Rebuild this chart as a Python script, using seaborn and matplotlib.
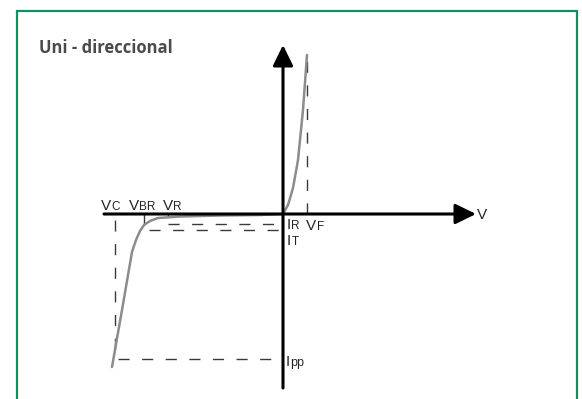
import numpy as np
import matplotlib.pyplot as plt
import seaborn as sns
from matplotlib.patches import Rectangle

# Curva I-V de un TVS unidireccional (origen = cruce de ejes, unidades arbitrarias)
curve_v = [-171, -161, -151, -147, -143, -139, -133, -125, -103, -63, -23, 0, 5, 10, 15, 20, 24]
curve_i = [-153, -96, -38, -26, -17, -11, -7, -4, -2.5, -1.5, -1, 0, 9, 26, 54, 104, 159]

# Puntos caracteristicos
V_C, V_BR, V_R, V_F = -168, -139, -115, 24
I_R, I_T, I_PP = -10, -16, -145
I_F_MAX = 159

titulo = "Uni - direccional"

OX, OY = 283, 214  # posicion del origen en pixeles


def px(x, y):
    return x - OX, OY - y


sns.set_style("white")
plt.rcParams["font.family"] = ["Liberation Sans", "DejaVu Sans"]

fig = plt.figure(figsize=(5.82, 3.99), dpi=100)
ax = fig.add_axes([0, 0, 1, 1])
ax.set_xlim(-OX, 582 - OX)
ax.set_ylim(OY - 399, OY)
ax.axis("off")

# marco verde
x0, y0 = px(16.5, 10.5)
x1, y1 = px(577, 420)
ax.add_patch(Rectangle((x0, y1), x1 - x0, y0 - y1, fill=False,
                       edgecolor="#138f5d", lw=1.6, clip_on=False))

ax.text(*px(39, 53), titulo, fontsize=12, fontweight="bold",
        family="Open Sans", color="#4a4a4a", va="baseline")

# lineas de referencia
dash = dict(color="#3a3a3a", lw=1.0, dashes=(8, 9))
ax.plot([V_C, V_C], [-6, I_PP], **dash)
ax.plot([V_C + 3, 0], [I_PP, I_PP], **dash)
ax.plot([V_BR, V_BR], [0, I_T + 5], color="#3a3a3a", lw=1.0)
ax.plot([V_BR + 5, 0], [I_T, I_T], **dash)
ax.plot([V_R, V_R], [0, -3], color="#3a3a3a", lw=1.0)
ax.plot([V_R, 0], [I_R, I_R], **dash)
ax.plot([V_F, V_F], [0, I_F_MAX], **dash)

# ejes con flecha
arrow = dict(arrowstyle="-|>,head_length=0.45,head_width=0.22", lw=2.2,
             color="black", mutation_scale=28, shrinkA=0, shrinkB=0)
ax.annotate("", xy=px(476, 214), xytext=px(104, 214), arrowprops=arrow)
ax.annotate("", xy=px(283, 45), xytext=px(283, 388), arrowprops=arrow)

# curva
sns.lineplot(x=curve_v, y=curve_i, sort=False, color="#8c8c8c", lw=1.8, ax=ax)

# etiquetas con subindice
MAIN, SUB = 11, 8.5


def label(xm, ym, main, xs, sub, sub_size=SUB):
    ax.text(*px(xm, ym), main, fontsize=MAIN, va="baseline")
    ax.text(*px(xs, ym), sub, fontsize=sub_size, va="baseline")


label(101, 210, "V", 111.5, "C")
label(129, 210, "V", 139.5, "BR")
label(163, 210, "V", 173.5, "R")
label(287, 229, "I", 291.5, "R")
label(306, 230, "V", 316.5, "F")
label(287, 245, "I", 291.5, "T")
label(286, 366, "I", 290.5, "pp", 9)
ax.text(*px(477, 215), "V", fontsize=MAIN, va="center")

fig.savefig("out.png", dpi=100)
